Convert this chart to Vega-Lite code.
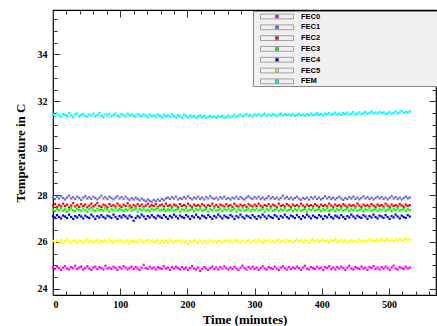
{
"$schema": "https://vega.github.io/schema/vega-lite/v6.json",
"width": 383, "height": 285,
"autosize": {"type": "none"},
"padding": {"left": 53, "top": 10, "right": 1, "bottom": 31},
"background": "white",
"config": {"view": {"stroke": "#000", "strokeWidth": 1.2}, "axis": {"domain": false, "grid": false, "tickColor": "#333", "tickWidth": 1}},
"data": {"values": [
{"t":0,"FEC0":24.92,"FEC1":27.91,"FEC2":27.55,"FEC3":27.37,"FEC4":27.10,"FEC5":26.04,"FEM":31.44},
{"t":3,"FEC0":24.84,"FEC1":27.83,"FEC2":27.61,"FEC3":27.31,"FEC4":27.04,"FEC5":25.98,"FEM":31.36},
{"t":6,"FEC0":24.94,"FEC1":27.93,"FEC2":27.49,"FEC3":27.41,"FEC4":27.14,"FEC5":26.06,"FEM":31.48},
{"t":9,"FEC0":24.88,"FEC1":27.85,"FEC2":27.57,"FEC3":27.35,"FEC4":27.06,"FEC5":26.00,"FEM":31.40},
{"t":12,"FEC0":24.80,"FEC1":27.95,"FEC2":27.51,"FEC3":27.43,"FEC4":27.00,"FEC5":26.08,"FEM":31.34},
{"t":15,"FEC0":24.90,"FEC1":27.87,"FEC2":27.63,"FEC3":27.33,"FEC4":27.12,"FEC5":25.96,"FEM":31.46},
{"t":18,"FEC0":24.96,"FEC1":27.81,"FEC2":27.53,"FEC3":27.39,"FEC4":27.08,"FEC5":26.02,"FEM":31.42},
{"t":21,"FEC0":24.86,"FEC1":27.89,"FEC2":27.59,"FEC3":27.29,"FEC4":27.02,"FEC5":26.10,"FEM":31.38},
{"t":24,"FEC0":24.82,"FEC1":27.97,"FEC2":27.47,"FEC3":27.37,"FEC4":27.16,"FEC5":26.00,"FEM":31.50},
{"t":27,"FEC0":24.92,"FEC1":27.85,"FEC2":27.55,"FEC3":27.45,"FEC4":27.06,"FEC5":25.94,"FEM":31.40},
{"t":30,"FEC0":24.88,"FEC1":27.91,"FEC2":27.65,"FEC3":27.35,"FEC4":26.98,"FEC5":26.04,"FEM":31.32},
{"t":33,"FEC0":24.98,"FEC1":27.83,"FEC2":27.51,"FEC3":27.31,"FEC4":27.10,"FEC5":26.08,"FEM":31.44},
{"t":36,"FEC0":24.84,"FEC1":27.93,"FEC2":27.57,"FEC3":27.41,"FEC4":27.04,"FEC5":25.98,"FEM":31.48},
{"t":39,"FEC0":24.90,"FEC1":27.87,"FEC2":27.49,"FEC3":27.37,"FEC4":27.14,"FEC5":26.06,"FEM":31.36},
{"t":42,"FEC0":24.94,"FEC1":27.79,"FEC2":27.61,"FEC3":27.33,"FEC4":27.08,"FEC5":26.02,"FEM":31.42},
{"t":45,"FEC0":24.82,"FEC1":27.89,"FEC2":27.53,"FEC3":27.43,"FEC4":27.00,"FEC5":25.96,"FEM":31.46},
{"t":48,"FEC0":24.88,"FEC1":27.95,"FEC2":27.59,"FEC3":27.35,"FEC4":27.12,"FEC5":26.04,"FEM":31.38},
{"t":51,"FEC0":24.96,"FEC1":27.85,"FEC2":27.47,"FEC3":27.29,"FEC4":27.06,"FEC5":26.10,"FEM":31.34},
{"t":54,"FEC0":24.86,"FEC1":27.91,"FEC2":27.55,"FEC3":27.39,"FEC4":27.02,"FEC5":26.00,"FEM":31.44},
{"t":57,"FEC0":24.80,"FEC1":27.83,"FEC2":27.63,"FEC3":27.45,"FEC4":27.16,"FEC5":26.06,"FEM":31.40},
{"t":60,"FEC0":24.90,"FEC1":27.93,"FEC2":27.51,"FEC3":27.37,"FEC4":27.08,"FEC5":25.98,"FEM":31.48},
{"t":63,"FEC0":24.94,"FEC1":27.87,"FEC2":27.57,"FEC3":27.31,"FEC4":26.98,"FEC5":26.02,"FEM":31.36},
{"t":66,"FEC0":24.84,"FEC1":27.81,"FEC2":27.65,"FEC3":27.41,"FEC4":27.10,"FEC5":26.08,"FEM":31.42},
{"t":69,"FEC0":24.92,"FEC1":27.89,"FEC2":27.53,"FEC3":27.35,"FEC4":27.04,"FEC5":25.94,"FEM":31.50},
{"t":72,"FEC0":24.88,"FEC1":27.97,"FEC2":27.49,"FEC3":27.39,"FEC4":27.14,"FEC5":26.04,"FEM":31.38},
{"t":75,"FEC0":24.82,"FEC1":27.85,"FEC2":27.59,"FEC3":27.33,"FEC4":27.06,"FEC5":26.00,"FEM":31.32},
{"t":78,"FEC0":24.98,"FEC1":27.91,"FEC2":27.55,"FEC3":27.43,"FEC4":27.00,"FEC5":26.06,"FEM":31.44},
{"t":81,"FEC0":24.86,"FEC1":27.83,"FEC2":27.47,"FEC3":27.37,"FEC4":27.12,"FEC5":25.98,"FEM":31.40},
{"t":84,"FEC0":24.90,"FEC1":27.93,"FEC2":27.61,"FEC3":27.29,"FEC4":27.08,"FEC5":26.10,"FEM":31.46},
{"t":87,"FEC0":24.84,"FEC1":27.87,"FEC2":27.53,"FEC3":27.39,"FEC4":27.02,"FEC5":26.02,"FEM":31.36},
{"t":90,"FEC0":24.94,"FEC1":27.81,"FEC2":27.57,"FEC3":27.35,"FEC4":27.16,"FEC5":25.96,"FEM":31.42},
{"t":93,"FEC0":24.88,"FEC1":27.89,"FEC2":27.51,"FEC3":27.45,"FEC4":27.06,"FEC5":26.04,"FEM":31.48},
{"t":96,"FEC0":24.80,"FEC1":27.95,"FEC2":27.63,"FEC3":27.33,"FEC4":26.98,"FEC5":26.08,"FEM":31.38},
{"t":99,"FEC0":24.92,"FEC1":27.85,"FEC2":27.55,"FEC3":27.41,"FEC4":27.10,"FEC5":26.00,"FEM":31.34},
{"t":102,"FEC0":24.86,"FEC1":27.91,"FEC2":27.49,"FEC3":27.37,"FEC4":27.04,"FEC5":26.06,"FEM":31.46},
{"t":105,"FEC0":24.96,"FEC1":27.83,"FEC2":27.59,"FEC3":27.31,"FEC4":27.14,"FEC5":25.98,"FEM":31.42},
{"t":108,"FEC0":24.90,"FEC1":27.93,"FEC2":27.53,"FEC3":27.39,"FEC4":27.08,"FEC5":26.02,"FEM":31.34},
{"t":111,"FEC0":24.82,"FEC1":27.85,"FEC2":27.65,"FEC3":27.35,"FEC4":27.00,"FEC5":26.08,"FEM":31.48},
{"t":114,"FEC0":24.88,"FEC1":27.79,"FEC2":27.55,"FEC3":27.43,"FEC4":27.12,"FEC5":25.94,"FEM":31.40},
{"t":117,"FEC0":24.94,"FEC1":27.87,"FEC2":27.47,"FEC3":27.33,"FEC4":27.06,"FEC5":26.04,"FEM":31.44},
{"t":120,"FEC0":24.84,"FEC1":27.81,"FEC2":27.57,"FEC3":27.37,"FEC4":26.90,"FEC5":26.00,"FEM":31.38},
{"t":123,"FEC0":24.92,"FEC1":27.89,"FEC2":27.51,"FEC3":27.41,"FEC4":27.02,"FEC5":26.06,"FEM":31.34},
{"t":126,"FEC0":24.86,"FEC1":27.83,"FEC2":27.61,"FEC3":27.29,"FEC4":27.10,"FEC5":25.98,"FEM":31.46},
{"t":129,"FEC0":24.80,"FEC1":27.77,"FEC2":27.53,"FEC3":27.39,"FEC4":27.04,"FEC5":26.10,"FEM":31.40},
{"t":132,"FEC0":24.90,"FEC1":27.85,"FEC2":27.59,"FEC3":27.35,"FEC4":27.16,"FEC5":26.02,"FEM":31.36},
{"t":135,"FEC0":25.02,"FEC1":27.79,"FEC2":27.49,"FEC3":27.43,"FEC4":27.08,"FEC5":25.96,"FEM":31.44},
{"t":138,"FEC0":24.88,"FEC1":27.73,"FEC2":27.55,"FEC3":27.33,"FEC4":26.98,"FEC5":26.04,"FEM":31.38},
{"t":141,"FEC0":24.84,"FEC1":27.81,"FEC2":27.63,"FEC3":27.37,"FEC4":27.10,"FEC5":26.08,"FEM":31.32},
{"t":144,"FEC0":24.94,"FEC1":27.75,"FEC2":27.51,"FEC3":27.31,"FEC4":27.04,"FEC5":26.00,"FEM":31.42},
{"t":147,"FEC0":24.86,"FEC1":27.71,"FEC2":27.57,"FEC3":27.41,"FEC4":27.14,"FEC5":26.06,"FEM":31.36},
{"t":150,"FEC0":24.90,"FEC1":27.79,"FEC2":27.53,"FEC3":27.35,"FEC4":27.06,"FEC5":25.98,"FEM":31.40},
{"t":153,"FEC0":24.82,"FEC1":27.73,"FEC2":27.61,"FEC3":27.39,"FEC4":27.00,"FEC5":26.02,"FEM":31.34},
{"t":156,"FEC0":24.92,"FEC1":27.81,"FEC2":27.49,"FEC3":27.45,"FEC4":27.12,"FEC5":26.08,"FEM":31.44},
{"t":159,"FEC0":24.88,"FEC1":27.75,"FEC2":27.55,"FEC3":27.33,"FEC4":27.08,"FEC5":25.94,"FEM":31.38},
{"t":162,"FEC0":24.84,"FEC1":27.83,"FEC2":27.59,"FEC3":27.37,"FEC4":27.02,"FEC5":26.04,"FEM":31.32},
{"t":165,"FEC0":24.96,"FEC1":27.77,"FEC2":27.51,"FEC3":27.41,"FEC4":27.14,"FEC5":26.00,"FEM":31.42},
{"t":168,"FEC0":24.86,"FEC1":27.85,"FEC2":27.63,"FEC3":27.31,"FEC4":27.06,"FEC5":26.06,"FEM":31.36},
{"t":171,"FEC0":24.90,"FEC1":27.89,"FEC2":27.53,"FEC3":27.39,"FEC4":26.98,"FEC5":25.98,"FEM":31.40},
{"t":174,"FEC0":24.80,"FEC1":27.83,"FEC2":27.57,"FEC3":27.35,"FEC4":27.10,"FEC5":26.10,"FEM":31.34},
{"t":177,"FEC0":24.92,"FEC1":27.91,"FEC2":27.49,"FEC3":27.43,"FEC4":27.04,"FEC5":26.02,"FEM":31.44},
{"t":180,"FEC0":24.86,"FEC1":27.85,"FEC2":27.59,"FEC3":27.33,"FEC4":27.16,"FEC5":25.96,"FEM":31.38},
{"t":183,"FEC0":24.94,"FEC1":27.93,"FEC2":27.55,"FEC3":27.37,"FEC4":27.08,"FEC5":26.04,"FEM":31.32},
{"t":186,"FEC0":24.88,"FEC1":27.81,"FEC2":27.47,"FEC3":27.41,"FEC4":27.00,"FEC5":26.08,"FEM":31.40},
{"t":189,"FEC0":24.82,"FEC1":27.87,"FEC2":27.61,"FEC3":27.29,"FEC4":27.12,"FEC5":26.00,"FEM":31.36},
{"t":192,"FEC0":24.92,"FEC1":27.83,"FEC2":27.53,"FEC3":27.39,"FEC4":27.06,"FEC5":26.06,"FEM":31.30},
{"t":195,"FEC0":24.84,"FEC1":27.91,"FEC2":27.57,"FEC3":27.35,"FEC4":27.02,"FEC5":25.98,"FEM":31.42},
{"t":198,"FEC0":24.90,"FEC1":27.85,"FEC2":27.51,"FEC3":27.45,"FEC4":27.14,"FEC5":26.02,"FEM":31.36},
{"t":201,"FEC0":24.80,"FEC1":27.95,"FEC2":27.63,"FEC3":27.33,"FEC4":27.08,"FEC5":25.92,"FEM":31.32},
{"t":204,"FEC0":24.88,"FEC1":27.87,"FEC2":27.55,"FEC3":27.37,"FEC4":26.98,"FEC5":26.04,"FEM":31.40},
{"t":207,"FEC0":24.96,"FEC1":27.81,"FEC2":27.49,"FEC3":27.41,"FEC4":27.10,"FEC5":26.00,"FEM":31.34},
{"t":210,"FEC0":24.86,"FEC1":27.89,"FEC2":27.59,"FEC3":27.31,"FEC4":27.04,"FEC5":26.08,"FEM":31.38},
{"t":213,"FEC0":24.82,"FEC1":27.85,"FEC2":27.53,"FEC3":27.39,"FEC4":27.16,"FEC5":26.02,"FEM":31.30},
{"t":216,"FEC0":24.90,"FEC1":27.93,"FEC2":27.57,"FEC3":27.35,"FEC4":27.06,"FEC5":25.96,"FEM":31.36},
{"t":219,"FEC0":24.76,"FEC1":27.83,"FEC2":27.51,"FEC3":27.43,"FEC4":27.00,"FEC5":26.06,"FEM":31.40},
{"t":222,"FEC0":24.84,"FEC1":27.89,"FEC2":27.61,"FEC3":27.33,"FEC4":27.12,"FEC5":25.98,"FEM":31.32},
{"t":225,"FEC0":24.92,"FEC1":27.81,"FEC2":27.55,"FEC3":27.37,"FEC4":27.08,"FEC5":26.04,"FEM":31.38},
{"t":228,"FEC0":24.86,"FEC1":27.91,"FEC2":27.47,"FEC3":27.41,"FEC4":27.02,"FEC5":25.94,"FEM":31.28},
{"t":231,"FEC0":24.80,"FEC1":27.85,"FEC2":27.57,"FEC3":27.29,"FEC4":27.14,"FEC5":26.02,"FEM":31.34},
{"t":234,"FEC0":24.88,"FEC1":27.95,"FEC2":27.53,"FEC3":27.39,"FEC4":27.06,"FEC5":26.08,"FEM":31.38},
{"t":237,"FEC0":24.94,"FEC1":27.87,"FEC2":27.63,"FEC3":27.35,"FEC4":26.98,"FEC5":26.00,"FEM":31.32},
{"t":240,"FEC0":24.84,"FEC1":27.83,"FEC2":27.51,"FEC3":27.45,"FEC4":27.10,"FEC5":26.04,"FEM":31.36},
{"t":243,"FEC0":24.90,"FEC1":27.89,"FEC2":27.57,"FEC3":27.33,"FEC4":27.04,"FEC5":25.98,"FEM":31.30},
{"t":246,"FEC0":24.82,"FEC1":27.81,"FEC2":27.49,"FEC3":27.37,"FEC4":27.16,"FEC5":26.06,"FEM":31.38},
{"t":249,"FEC0":24.92,"FEC1":27.91,"FEC2":27.59,"FEC3":27.41,"FEC4":27.08,"FEC5":26.02,"FEM":31.34},
{"t":252,"FEC0":24.86,"FEC1":27.85,"FEC2":27.55,"FEC3":27.31,"FEC4":27.00,"FEC5":25.96,"FEM":31.38},
{"t":255,"FEC0":24.96,"FEC1":27.93,"FEC2":27.51,"FEC3":27.39,"FEC4":27.12,"FEC5":26.04,"FEM":31.30},
{"t":258,"FEC0":24.88,"FEC1":27.83,"FEC2":27.61,"FEC3":27.35,"FEC4":27.06,"FEC5":26.08,"FEM":31.34},
{"t":261,"FEC0":24.82,"FEC1":27.87,"FEC2":27.53,"FEC3":27.43,"FEC4":27.02,"FEC5":26.00,"FEM":31.40},
{"t":264,"FEC0":24.90,"FEC1":27.81,"FEC2":27.57,"FEC3":27.33,"FEC4":27.14,"FEC5":26.06,"FEM":31.32},
{"t":267,"FEC0":24.84,"FEC1":27.89,"FEC2":27.49,"FEC3":27.37,"FEC4":27.08,"FEC5":25.98,"FEM":31.36},
{"t":270,"FEC0":24.94,"FEC1":27.85,"FEC2":27.63,"FEC3":27.41,"FEC4":26.98,"FEC5":26.04,"FEM":31.42},
{"t":273,"FEC0":24.86,"FEC1":27.93,"FEC2":27.55,"FEC3":27.29,"FEC4":27.10,"FEC5":26.10,"FEM":31.34},
{"t":276,"FEC0":24.80,"FEC1":27.83,"FEC2":27.51,"FEC3":27.39,"FEC4":27.04,"FEC5":26.02,"FEM":31.38},
{"t":279,"FEC0":24.90,"FEC1":27.91,"FEC2":27.59,"FEC3":27.35,"FEC4":27.16,"FEC5":25.96,"FEM":31.44},
{"t":282,"FEC0":24.98,"FEC1":27.85,"FEC2":27.53,"FEC3":27.45,"FEC4":27.06,"FEC5":26.06,"FEM":31.36},
{"t":285,"FEC0":24.88,"FEC1":27.81,"FEC2":27.57,"FEC3":27.33,"FEC4":27.00,"FEC5":26.00,"FEM":31.40},
{"t":288,"FEC0":24.82,"FEC1":27.89,"FEC2":27.49,"FEC3":27.37,"FEC4":27.12,"FEC5":26.04,"FEM":31.46},
{"t":291,"FEC0":24.92,"FEC1":27.95,"FEC2":27.61,"FEC3":27.41,"FEC4":27.08,"FEC5":26.08,"FEM":31.38},
{"t":294,"FEC0":24.86,"FEC1":27.87,"FEC2":27.55,"FEC3":27.31,"FEC4":27.02,"FEC5":25.98,"FEM":31.42},
{"t":297,"FEC0":24.94,"FEC1":27.83,"FEC2":27.51,"FEC3":27.39,"FEC4":27.14,"FEC5":26.02,"FEM":31.36},
{"t":300,"FEC0":24.84,"FEC1":27.91,"FEC2":27.59,"FEC3":27.35,"FEC4":27.06,"FEC5":26.06,"FEM":31.44},
{"t":303,"FEC0":24.90,"FEC1":27.85,"FEC2":27.53,"FEC3":27.43,"FEC4":26.98,"FEC5":26.00,"FEM":31.40},
{"t":306,"FEC0":24.80,"FEC1":27.93,"FEC2":27.63,"FEC3":27.33,"FEC4":27.10,"FEC5":26.10,"FEM":31.46},
{"t":309,"FEC0":24.88,"FEC1":27.83,"FEC2":27.55,"FEC3":27.37,"FEC4":27.04,"FEC5":26.02,"FEM":31.38},
{"t":312,"FEC0":24.96,"FEC1":27.89,"FEC2":27.49,"FEC3":27.41,"FEC4":27.16,"FEC5":25.96,"FEM":31.42},
{"t":315,"FEC0":24.86,"FEC1":27.81,"FEC2":27.57,"FEC3":27.29,"FEC4":27.08,"FEC5":26.06,"FEM":31.48},
{"t":318,"FEC0":24.82,"FEC1":27.87,"FEC2":27.53,"FEC3":27.39,"FEC4":27.00,"FEC5":26.02,"FEM":31.40},
{"t":321,"FEC0":24.92,"FEC1":27.95,"FEC2":27.61,"FEC3":27.35,"FEC4":27.12,"FEC5":26.08,"FEM":31.44},
{"t":324,"FEC0":24.88,"FEC1":27.85,"FEC2":27.51,"FEC3":27.45,"FEC4":27.06,"FEC5":26.00,"FEM":31.38},
{"t":327,"FEC0":24.84,"FEC1":27.91,"FEC2":27.59,"FEC3":27.33,"FEC4":27.02,"FEC5":26.04,"FEM":31.46},
{"t":330,"FEC0":24.94,"FEC1":27.83,"FEC2":27.55,"FEC3":27.37,"FEC4":27.14,"FEC5":25.98,"FEM":31.42},
{"t":333,"FEC0":24.86,"FEC1":27.89,"FEC2":27.49,"FEC3":27.41,"FEC4":27.08,"FEC5":26.06,"FEM":31.36},
{"t":336,"FEC0":24.80,"FEC1":27.81,"FEC2":27.63,"FEC3":27.31,"FEC4":26.98,"FEC5":26.10,"FEM":31.44},
{"t":339,"FEC0":24.90,"FEC1":27.87,"FEC2":27.53,"FEC3":27.39,"FEC4":27.10,"FEC5":26.02,"FEM":31.48},
{"t":342,"FEC0":24.96,"FEC1":27.97,"FEC2":27.57,"FEC3":27.35,"FEC4":27.04,"FEC5":26.04,"FEM":31.40},
{"t":345,"FEC0":24.88,"FEC1":27.85,"FEC2":27.51,"FEC3":27.43,"FEC4":27.16,"FEC5":26.00,"FEM":31.46},
{"t":348,"FEC0":24.82,"FEC1":27.91,"FEC2":27.61,"FEC3":27.33,"FEC4":27.06,"FEC5":26.08,"FEM":31.42},
{"t":351,"FEC0":24.92,"FEC1":27.83,"FEC2":27.55,"FEC3":27.37,"FEC4":27.00,"FEC5":26.02,"FEM":31.44},
{"t":354,"FEC0":24.84,"FEC1":27.89,"FEC2":27.49,"FEC3":27.41,"FEC4":27.12,"FEC5":26.06,"FEM":31.40},
{"t":357,"FEC0":24.90,"FEC1":27.81,"FEC2":27.59,"FEC3":27.31,"FEC4":27.08,"FEC5":25.98,"FEM":31.46},
{"t":360,"FEC0":24.86,"FEC1":27.87,"FEC2":27.53,"FEC3":27.39,"FEC4":27.02,"FEC5":26.04,"FEM":31.38},
{"t":363,"FEC0":24.94,"FEC1":27.93,"FEC2":27.57,"FEC3":27.35,"FEC4":27.14,"FEC5":26.10,"FEM":31.42},
{"t":366,"FEC0":24.88,"FEC1":27.85,"FEC2":27.51,"FEC3":27.45,"FEC4":27.06,"FEC5":26.02,"FEM":31.48},
{"t":369,"FEC0":24.80,"FEC1":27.79,"FEC2":27.63,"FEC3":27.33,"FEC4":26.98,"FEC5":26.06,"FEM":31.40},
{"t":372,"FEC0":24.90,"FEC1":27.87,"FEC2":27.55,"FEC3":27.37,"FEC4":27.10,"FEC5":26.00,"FEM":31.44},
{"t":375,"FEC0":24.98,"FEC1":27.83,"FEC2":27.49,"FEC3":27.41,"FEC4":27.04,"FEC5":26.08,"FEM":31.38},
{"t":378,"FEC0":24.86,"FEC1":27.89,"FEC2":27.59,"FEC3":27.29,"FEC4":27.16,"FEC5":26.04,"FEM":31.46},
{"t":381,"FEC0":24.82,"FEC1":27.81,"FEC2":27.53,"FEC3":27.39,"FEC4":27.08,"FEC5":25.98,"FEM":31.42},
{"t":384,"FEC0":24.92,"FEC1":27.91,"FEC2":27.57,"FEC3":27.35,"FEC4":27.00,"FEC5":26.06,"FEM":31.48},
{"t":387,"FEC0":24.88,"FEC1":27.85,"FEC2":27.51,"FEC3":27.43,"FEC4":27.12,"FEC5":26.10,"FEM":31.40},
{"t":390,"FEC0":24.84,"FEC1":27.93,"FEC2":27.61,"FEC3":27.33,"FEC4":27.06,"FEC5":26.02,"FEM":31.44},
{"t":393,"FEC0":24.94,"FEC1":27.83,"FEC2":27.55,"FEC3":27.37,"FEC4":27.02,"FEC5":26.08,"FEM":31.50},
{"t":396,"FEC0":24.86,"FEC1":27.89,"FEC2":27.49,"FEC3":27.41,"FEC4":27.14,"FEC5":26.00,"FEM":31.42},
{"t":399,"FEC0":24.90,"FEC1":27.81,"FEC2":27.59,"FEC3":27.31,"FEC4":27.08,"FEC5":26.04,"FEM":31.46},
{"t":402,"FEC0":24.80,"FEC1":27.87,"FEC2":27.53,"FEC3":27.39,"FEC4":26.98,"FEC5":26.10,"FEM":31.40},
{"t":405,"FEC0":24.92,"FEC1":27.95,"FEC2":27.57,"FEC3":27.35,"FEC4":27.10,"FEC5":26.02,"FEM":31.48},
{"t":408,"FEC0":24.88,"FEC1":27.85,"FEC2":27.51,"FEC3":27.45,"FEC4":27.04,"FEC5":26.06,"FEM":31.44},
{"t":411,"FEC0":24.96,"FEC1":27.91,"FEC2":27.63,"FEC3":27.33,"FEC4":27.16,"FEC5":25.98,"FEM":31.50},
{"t":414,"FEC0":24.84,"FEC1":27.83,"FEC2":27.55,"FEC3":27.37,"FEC4":27.06,"FEC5":26.08,"FEM":31.42},
{"t":417,"FEC0":24.90,"FEC1":27.89,"FEC2":27.49,"FEC3":27.41,"FEC4":27.00,"FEC5":26.04,"FEM":31.46},
{"t":420,"FEC0":24.82,"FEC1":27.81,"FEC2":27.59,"FEC3":27.31,"FEC4":27.12,"FEC5":26.10,"FEM":31.52},
{"t":423,"FEC0":24.92,"FEC1":27.87,"FEC2":27.53,"FEC3":27.39,"FEC4":27.08,"FEC5":25.99,"FEM":31.44},
{"t":426,"FEC0":24.86,"FEC1":27.93,"FEC2":27.57,"FEC3":27.35,"FEC4":27.02,"FEC5":26.03,"FEM":31.48},
{"t":429,"FEC0":24.94,"FEC1":27.85,"FEC2":27.51,"FEC3":27.43,"FEC4":27.14,"FEC5":26.09,"FEM":31.42},
{"t":432,"FEC0":24.88,"FEC1":27.79,"FEC2":27.61,"FEC3":27.33,"FEC4":27.06,"FEC5":26.01,"FEM":31.50},
{"t":435,"FEC0":24.80,"FEC1":27.87,"FEC2":27.55,"FEC3":27.37,"FEC4":26.98,"FEC5":26.05,"FEM":31.46},
{"t":438,"FEC0":24.90,"FEC1":27.83,"FEC2":27.49,"FEC3":27.41,"FEC4":27.10,"FEC5":25.97,"FEM":31.52},
{"t":441,"FEC0":24.98,"FEC1":27.91,"FEC2":27.59,"FEC3":27.31,"FEC4":27.04,"FEC5":26.03,"FEM":31.44},
{"t":444,"FEC0":24.86,"FEC1":27.85,"FEC2":27.53,"FEC3":27.39,"FEC4":27.16,"FEC5":26.07,"FEM":31.48},
{"t":447,"FEC0":24.82,"FEC1":27.93,"FEC2":27.57,"FEC3":27.35,"FEC4":27.08,"FEC5":26.01,"FEM":31.54},
{"t":450,"FEC0":24.92,"FEC1":27.83,"FEC2":27.51,"FEC3":27.45,"FEC4":27.00,"FEC5":26.05,"FEM":31.43},
{"t":453,"FEC0":24.88,"FEC1":27.89,"FEC2":27.63,"FEC3":27.33,"FEC4":27.12,"FEC5":25.99,"FEM":31.47},
{"t":456,"FEC0":24.84,"FEC1":27.81,"FEC2":27.55,"FEC3":27.37,"FEC4":27.06,"FEC5":26.09,"FEM":31.53},
{"t":459,"FEC0":24.94,"FEC1":27.87,"FEC2":27.49,"FEC3":27.41,"FEC4":27.02,"FEC5":26.03,"FEM":31.45},
{"t":462,"FEC0":24.86,"FEC1":27.95,"FEC2":27.59,"FEC3":27.31,"FEC4":27.14,"FEC5":26.07,"FEM":31.49},
{"t":465,"FEC0":24.90,"FEC1":27.85,"FEC2":27.53,"FEC3":27.39,"FEC4":27.08,"FEC5":26.01,"FEM":31.55},
{"t":468,"FEC0":24.80,"FEC1":27.91,"FEC2":27.57,"FEC3":27.35,"FEC4":26.98,"FEC5":26.05,"FEM":31.47},
{"t":471,"FEC0":24.92,"FEC1":27.83,"FEC2":27.51,"FEC3":27.43,"FEC4":27.10,"FEC5":26.11,"FEM":31.51},
{"t":474,"FEC0":24.88,"FEC1":27.89,"FEC2":27.61,"FEC3":27.33,"FEC4":27.04,"FEC5":26.03,"FEM":31.57},
{"t":477,"FEC0":24.96,"FEC1":27.81,"FEC2":27.55,"FEC3":27.37,"FEC4":27.16,"FEC5":26.07,"FEM":31.49},
{"t":480,"FEC0":24.84,"FEC1":27.87,"FEC2":27.49,"FEC3":27.41,"FEC4":27.06,"FEC5":26.01,"FEM":31.53},
{"t":483,"FEC0":24.90,"FEC1":27.93,"FEC2":27.59,"FEC3":27.31,"FEC4":27.00,"FEC5":26.09,"FEM":31.47},
{"t":486,"FEC0":24.82,"FEC1":27.85,"FEC2":27.53,"FEC3":27.39,"FEC4":27.12,"FEC5":26.05,"FEM":31.55},
{"t":489,"FEC0":24.92,"FEC1":27.91,"FEC2":27.57,"FEC3":27.35,"FEC4":27.08,"FEC5":26.11,"FEM":31.51},
{"t":492,"FEC0":24.86,"FEC1":27.83,"FEC2":27.51,"FEC3":27.45,"FEC4":27.02,"FEC5":26.03,"FEM":31.53},
{"t":495,"FEC0":24.94,"FEC1":27.89,"FEC2":27.63,"FEC3":27.33,"FEC4":27.14,"FEC5":26.07,"FEM":31.45},
{"t":498,"FEC0":24.88,"FEC1":27.81,"FEC2":27.55,"FEC3":27.37,"FEC4":27.06,"FEC5":26.13,"FEM":31.49},
{"t":501,"FEC0":24.80,"FEC1":27.87,"FEC2":27.49,"FEC3":27.41,"FEC4":26.98,"FEC5":26.05,"FEM":31.55},
{"t":504,"FEC0":24.90,"FEC1":27.95,"FEC2":27.59,"FEC3":27.31,"FEC4":27.10,"FEC5":26.09,"FEM":31.47},
{"t":507,"FEC0":24.98,"FEC1":27.85,"FEC2":27.53,"FEC3":27.39,"FEC4":27.04,"FEC5":26.03,"FEM":31.51},
{"t":510,"FEC0":24.86,"FEC1":27.91,"FEC2":27.57,"FEC3":27.35,"FEC4":27.16,"FEC5":26.11,"FEM":31.57},
{"t":513,"FEC0":24.82,"FEC1":27.83,"FEC2":27.51,"FEC3":27.43,"FEC4":27.08,"FEC5":26.07,"FEM":31.49},
{"t":516,"FEC0":24.92,"FEC1":27.89,"FEC2":27.61,"FEC3":27.33,"FEC4":27.00,"FEC5":26.13,"FEM":31.53},
{"t":519,"FEC0":24.88,"FEC1":27.81,"FEC2":27.55,"FEC3":27.37,"FEC4":27.12,"FEC5":26.05,"FEM":31.59},
{"t":522,"FEC0":24.84,"FEC1":27.87,"FEC2":27.49,"FEC3":27.41,"FEC4":27.06,"FEC5":26.09,"FEM":31.51},
{"t":525,"FEC0":24.94,"FEC1":27.93,"FEC2":27.59,"FEC3":27.31,"FEC4":27.02,"FEC5":26.15,"FEM":31.55},
{"t":528,"FEC0":24.86,"FEC1":27.85,"FEC2":27.53,"FEC3":27.39,"FEC4":27.14,"FEC5":26.07,"FEM":31.53},
{"t":531,"FEC0":24.90,"FEC1":27.89,"FEC2":27.57,"FEC3":27.35,"FEC4":27.08,"FEC5":26.11,"FEM":31.57}
]},
"transform": [{"fold": ["FEC0","FEC1","FEC2","FEC3","FEC4","FEC5","FEM"], "as": ["series","temp"]}],
"layer": [
{
"mark": {"type": "point", "shape": "square", "filled": true, "size": 5, "opacity": 1},
"encoding": {
"x": {"field": "t", "type": "quantitative", "scale": {"domain": [0, 570], "nice": false},
 "axis": {"orient": "bottom", "values": [0,20,40,60,80,100,120,140,160,180,200,220,240,260,280,300,320,340,360,380,400,420,440,460,480,500,520,540,560],
  "labelExpr": "datum.value % 100 === 0 ? format(datum.value, 'd') : ''",
  "tickSize": {"condition": {"test": "datum.value % 100 === 0", "value": -7}, "value": -4},
  "labelFont": "Liberation Serif", "labelFontWeight": "bold", "labelFontSize": 10, "labelColor": "#000", "labelPadding": 11,
  "title": "Time (minutes)", "titleFont": "Liberation Serif", "titleFontWeight": "bold", "titleFontSize": 13, "titleColor": "#000", "titlePadding": 4}},
"y": {"field": "temp", "type": "quantitative", "scale": {"domain": [23.73, 35.9], "nice": false, "zero": false},
 "axis": {"orient": "left", "values": [24,24.5,25,25.5,26,26.5,27,27.5,28,28.5,29,29.5,30,30.5,31,31.5,32,32.5,33,33.5,34,34.5,35,35.5],
  "labelExpr": "datum.value % 2 === 0 ? format(datum.value, 'd') : ''",
  "tickSize": {"condition": {"test": "datum.value % 2 === 0", "value": -7}, "value": -4},
  "labelFont": "Liberation Serif", "labelFontWeight": "bold", "labelFontSize": 10, "labelColor": "#000", "labelPadding": 13,
  "title": "Temperature in C", "titleFont": "Liberation Serif", "titleFontWeight": "bold", "titleFontSize": 13, "titleColor": "#000", "titlePadding": 10}},
"color": {"field": "series", "type": "nominal",
 "scale": {"domain": ["FEC0","FEC1","FEC2","FEC3","FEC4","FEC5","FEM"], "range": ["#ff00ff","#6a6ae0","#ff0000","#00ff00","#0000ff","#ffff00","#00ffff"]},
 "legend": {"orient": "none", "legendX": 200, "legendY": 1, "title": null,
  "fillColor": "#f0f0f0", "strokeColor": "#888", "padding": 1, "symbolOffset": 18.5,
  "symbolType": "M-4.125,-0.6H4.125M-4.125,0.6H4.125M-4.125,-0.6V0.6M4.125,-0.6V0.6M-0.38,-0.38H0.38V0.38H-0.38ZM39.5,0",
  "symbolSize": 64, "symbolStrokeColor": "#555", "symbolStrokeWidth": 0.5,
  "labelFont": "Liberation Sans", "labelFontWeight": "bold", "labelFontSize": 7.5, "labelColor": "#000", "labelOffset": 19.5,
  "rowPadding": 2.8, "labelLimit": 300}}
}
},
{
"mark": {"type": "point", "opacity": 0},
"encoding": {
"x": {"field": "t", "type": "quantitative",
 "axis": {"orient": "top", "values": [0,20,40,60,80,100,120,140,160,180,200,220,240,260,280,300,320,340,360,380,400,420,440,460,480,500,520,540,560], "labels": false, "title": null,
  "tickSize": {"condition": {"test": "datum.value % 100 === 0", "value": -7}, "value": -4}}},
"y": {"field": "temp", "type": "quantitative",
 "axis": {"orient": "right", "values": [24,24.5,25,25.5,26,26.5,27,27.5,28,28.5,29,29.5,30,30.5,31,31.5,32,32.5,33,33.5,34,34.5,35,35.5], "labels": false, "title": null,
  "tickSize": {"condition": {"test": "datum.value % 2 === 0", "value": -7}, "value": -4}}}
}
}
],
"resolve": {"axis": {"x": "independent", "y": "independent"}}
}
